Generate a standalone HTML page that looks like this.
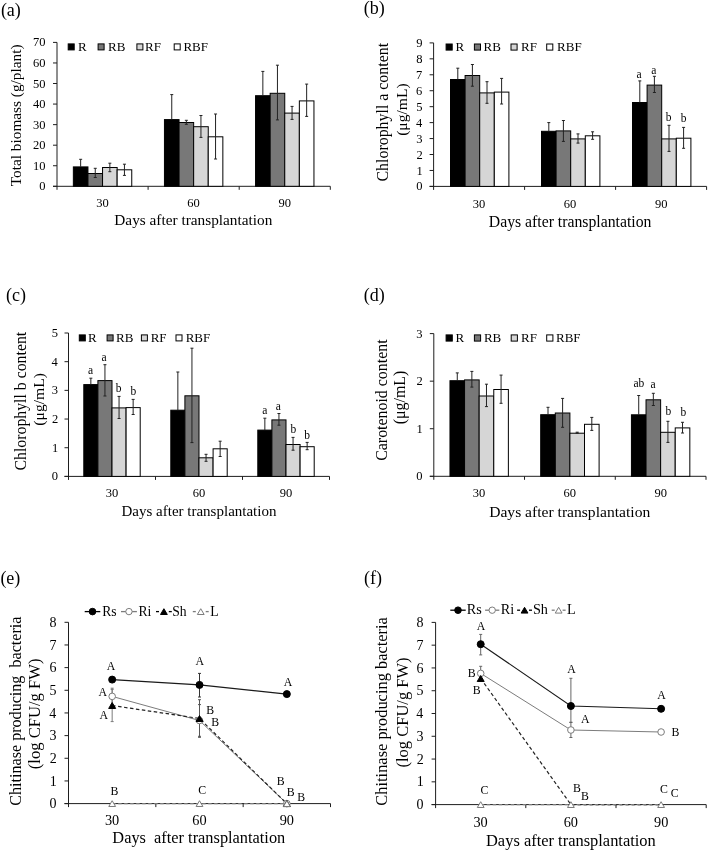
<!DOCTYPE html>
<html><head><meta charset="utf-8"><title>Figure</title>
<style>html,body{margin:0;padding:0;background:#fff;}svg{display:block;will-change:transform;}text{font-family:"Liberation Serif", serif;}</style>
</head><body>
<svg width="708" height="852" viewBox="0 0 708 852">
<rect width="708" height="852" fill="#fff"/>
<text x="0.89" y="16.41" font-size="18.00" fill="#000">(a)</text>
<line x1="57.00" y1="42.40" x2="57.00" y2="189.80" stroke="#1e1e1e" stroke-width="1"/>
<line x1="53.00" y1="186.30" x2="57.00" y2="186.30" stroke="#1e1e1e" stroke-width="1"/>
<text x="39.22" y="190.39" font-size="12.50" fill="#000">0</text>
<line x1="53.00" y1="165.74" x2="57.00" y2="165.74" stroke="#1e1e1e" stroke-width="1"/>
<text x="32.97" y="169.84" font-size="12.50" fill="#000">10</text>
<line x1="53.00" y1="145.19" x2="57.00" y2="145.19" stroke="#1e1e1e" stroke-width="1"/>
<text x="32.97" y="149.28" font-size="12.50" fill="#000">20</text>
<line x1="53.00" y1="124.63" x2="57.00" y2="124.63" stroke="#1e1e1e" stroke-width="1"/>
<text x="32.97" y="128.72" font-size="12.50" fill="#000">30</text>
<line x1="53.00" y1="104.07" x2="57.00" y2="104.07" stroke="#1e1e1e" stroke-width="1"/>
<text x="32.97" y="108.17" font-size="12.50" fill="#000">40</text>
<line x1="53.00" y1="83.51" x2="57.00" y2="83.51" stroke="#1e1e1e" stroke-width="1"/>
<text x="32.97" y="87.61" font-size="12.50" fill="#000">50</text>
<line x1="53.00" y1="62.96" x2="57.00" y2="62.96" stroke="#1e1e1e" stroke-width="1"/>
<text x="32.97" y="67.05" font-size="12.50" fill="#000">60</text>
<line x1="53.00" y1="42.40" x2="57.00" y2="42.40" stroke="#1e1e1e" stroke-width="1"/>
<text x="32.97" y="46.49" font-size="12.50" fill="#000">70</text>
<line x1="53.00" y1="186.30" x2="330.30" y2="186.30" stroke="#1e1e1e" stroke-width="1"/>
<line x1="148.10" y1="186.30" x2="148.10" y2="189.80" stroke="#1e1e1e" stroke-width="1"/>
<line x1="239.20" y1="186.30" x2="239.20" y2="189.80" stroke="#1e1e1e" stroke-width="1"/>
<line x1="330.30" y1="186.30" x2="330.30" y2="189.80" stroke="#1e1e1e" stroke-width="1"/>
<rect x="73.35" y="166.90" width="14.60" height="19.40" fill="#000000" stroke="#000" stroke-width="1"/>
<rect x="87.95" y="173.50" width="14.60" height="12.80" fill="#787878" stroke="#000" stroke-width="1"/>
<rect x="102.55" y="167.50" width="14.60" height="18.80" fill="#d6d6d6" stroke="#000" stroke-width="1"/>
<rect x="117.15" y="169.80" width="14.60" height="16.50" fill="#ffffff" stroke="#000" stroke-width="1"/>
<line x1="80.65" y1="159.30" x2="80.65" y2="166.90" stroke="#222" stroke-width="1"/>
<line x1="79.15" y1="159.30" x2="82.15" y2="159.30" stroke="#222" stroke-width="1"/>
<line x1="95.25" y1="168.30" x2="95.25" y2="177.50" stroke="#222" stroke-width="1"/>
<line x1="93.75" y1="168.30" x2="96.75" y2="168.30" stroke="#222" stroke-width="1"/>
<line x1="93.75" y1="177.50" x2="96.75" y2="177.50" stroke="#222" stroke-width="1"/>
<line x1="109.85" y1="163.20" x2="109.85" y2="171.70" stroke="#222" stroke-width="1"/>
<line x1="108.35" y1="163.20" x2="111.35" y2="163.20" stroke="#222" stroke-width="1"/>
<line x1="108.35" y1="171.70" x2="111.35" y2="171.70" stroke="#222" stroke-width="1"/>
<line x1="124.45" y1="164.20" x2="124.45" y2="175.40" stroke="#222" stroke-width="1"/>
<line x1="122.95" y1="164.20" x2="125.95" y2="164.20" stroke="#222" stroke-width="1"/>
<line x1="122.95" y1="175.40" x2="125.95" y2="175.40" stroke="#222" stroke-width="1"/>
<rect x="164.45" y="119.60" width="14.60" height="66.70" fill="#000000" stroke="#000" stroke-width="1"/>
<rect x="179.05" y="122.50" width="14.60" height="63.80" fill="#787878" stroke="#000" stroke-width="1"/>
<rect x="193.65" y="126.70" width="14.60" height="59.60" fill="#d6d6d6" stroke="#000" stroke-width="1"/>
<rect x="208.25" y="136.80" width="14.60" height="49.50" fill="#ffffff" stroke="#000" stroke-width="1"/>
<line x1="171.75" y1="94.60" x2="171.75" y2="119.60" stroke="#222" stroke-width="1"/>
<line x1="170.25" y1="94.60" x2="173.25" y2="94.60" stroke="#222" stroke-width="1"/>
<line x1="186.35" y1="120.30" x2="186.35" y2="124.30" stroke="#222" stroke-width="1"/>
<line x1="184.85" y1="120.30" x2="187.85" y2="120.30" stroke="#222" stroke-width="1"/>
<line x1="184.85" y1="124.30" x2="187.85" y2="124.30" stroke="#222" stroke-width="1"/>
<line x1="200.95" y1="115.50" x2="200.95" y2="137.40" stroke="#222" stroke-width="1"/>
<line x1="199.45" y1="115.50" x2="202.45" y2="115.50" stroke="#222" stroke-width="1"/>
<line x1="199.45" y1="137.40" x2="202.45" y2="137.40" stroke="#222" stroke-width="1"/>
<line x1="215.55" y1="114.00" x2="215.55" y2="159.00" stroke="#222" stroke-width="1"/>
<line x1="214.05" y1="114.00" x2="217.05" y2="114.00" stroke="#222" stroke-width="1"/>
<line x1="214.05" y1="159.00" x2="217.05" y2="159.00" stroke="#222" stroke-width="1"/>
<rect x="255.55" y="95.70" width="14.60" height="90.60" fill="#000000" stroke="#000" stroke-width="1"/>
<rect x="270.15" y="93.30" width="14.60" height="93.00" fill="#787878" stroke="#000" stroke-width="1"/>
<rect x="284.75" y="113.10" width="14.60" height="73.20" fill="#d6d6d6" stroke="#000" stroke-width="1"/>
<rect x="299.35" y="100.90" width="14.60" height="85.40" fill="#ffffff" stroke="#000" stroke-width="1"/>
<line x1="262.85" y1="71.40" x2="262.85" y2="95.70" stroke="#222" stroke-width="1"/>
<line x1="261.35" y1="71.40" x2="264.35" y2="71.40" stroke="#222" stroke-width="1"/>
<line x1="277.45" y1="65.20" x2="277.45" y2="119.90" stroke="#222" stroke-width="1"/>
<line x1="275.95" y1="65.20" x2="278.95" y2="65.20" stroke="#222" stroke-width="1"/>
<line x1="275.95" y1="119.90" x2="278.95" y2="119.90" stroke="#222" stroke-width="1"/>
<line x1="292.05" y1="106.40" x2="292.05" y2="119.40" stroke="#222" stroke-width="1"/>
<line x1="290.55" y1="106.40" x2="293.55" y2="106.40" stroke="#222" stroke-width="1"/>
<line x1="290.55" y1="119.40" x2="293.55" y2="119.40" stroke="#222" stroke-width="1"/>
<line x1="306.65" y1="84.10" x2="306.65" y2="116.40" stroke="#222" stroke-width="1"/>
<line x1="305.15" y1="84.10" x2="308.15" y2="84.10" stroke="#222" stroke-width="1"/>
<line x1="305.15" y1="116.40" x2="308.15" y2="116.40" stroke="#222" stroke-width="1"/>
<text x="96.24" y="206.61" font-size="12.50" fill="#000">30</text>
<text x="187.37" y="206.61" font-size="12.50" fill="#000">60</text>
<text x="278.53" y="206.61" font-size="12.50" fill="#000">90</text>
<text x="114.31" y="225.40" font-size="15.30" fill="#000">Days after transplantation</text>
<text transform="translate(21.47,186.17) rotate(-90)" x="0" y="0" font-size="15.30" fill="#000">Total biomass (g/plant)</text>
<rect x="68.20" y="43.90" width="6.00" height="6.00" fill="#000000" stroke="#000" stroke-width="1"/>
<text x="77.91" y="51.10" font-size="13.00" fill="#000">R</text>
<rect x="98.10" y="43.90" width="6.00" height="6.00" fill="#787878" stroke="#000" stroke-width="1"/>
<text x="108.11" y="51.10" font-size="13.00" fill="#000">RB</text>
<rect x="136.90" y="43.90" width="6.00" height="6.00" fill="#d6d6d6" stroke="#000" stroke-width="1"/>
<text x="145.01" y="51.10" font-size="13.00" fill="#000">RF</text>
<rect x="174.20" y="43.90" width="6.00" height="6.00" fill="#ffffff" stroke="#000" stroke-width="1"/>
<text x="183.41" y="51.10" font-size="13.00" fill="#000">RBF</text>
<text x="363.79" y="14.41" font-size="18.00" fill="#000">(b)</text>
<line x1="433.60" y1="42.90" x2="433.60" y2="189.90" stroke="#1e1e1e" stroke-width="1"/>
<line x1="429.60" y1="186.40" x2="433.60" y2="186.40" stroke="#1e1e1e" stroke-width="1"/>
<text x="416.22" y="190.49" font-size="12.50" fill="#000">0</text>
<line x1="429.60" y1="170.46" x2="433.60" y2="170.46" stroke="#1e1e1e" stroke-width="1"/>
<text x="416.50" y="174.58" font-size="12.50" fill="#000">1</text>
<line x1="429.60" y1="154.51" x2="433.60" y2="154.51" stroke="#1e1e1e" stroke-width="1"/>
<text x="416.44" y="158.65" font-size="12.50" fill="#000">2</text>
<line x1="429.60" y1="138.57" x2="433.60" y2="138.57" stroke="#1e1e1e" stroke-width="1"/>
<text x="416.25" y="142.64" font-size="12.50" fill="#000">3</text>
<line x1="429.60" y1="122.62" x2="433.60" y2="122.62" stroke="#1e1e1e" stroke-width="1"/>
<text x="415.94" y="126.73" font-size="12.50" fill="#000">4</text>
<line x1="429.60" y1="106.68" x2="433.60" y2="106.68" stroke="#1e1e1e" stroke-width="1"/>
<text x="416.25" y="110.71" font-size="12.50" fill="#000">5</text>
<line x1="429.60" y1="90.73" x2="433.60" y2="90.73" stroke="#1e1e1e" stroke-width="1"/>
<text x="416.12" y="94.81" font-size="12.50" fill="#000">6</text>
<line x1="429.60" y1="74.79" x2="433.60" y2="74.79" stroke="#1e1e1e" stroke-width="1"/>
<text x="416.12" y="78.88" font-size="12.50" fill="#000">7</text>
<line x1="429.60" y1="58.84" x2="433.60" y2="58.84" stroke="#1e1e1e" stroke-width="1"/>
<text x="416.22" y="62.94" font-size="12.50" fill="#000">8</text>
<line x1="429.60" y1="42.90" x2="433.60" y2="42.90" stroke="#1e1e1e" stroke-width="1"/>
<text x="416.25" y="46.98" font-size="12.50" fill="#000">9</text>
<line x1="429.60" y1="186.40" x2="706.60" y2="186.40" stroke="#1e1e1e" stroke-width="1"/>
<line x1="524.60" y1="186.40" x2="524.60" y2="189.90" stroke="#1e1e1e" stroke-width="1"/>
<line x1="615.60" y1="186.40" x2="615.60" y2="189.90" stroke="#1e1e1e" stroke-width="1"/>
<line x1="706.60" y1="186.40" x2="706.60" y2="189.90" stroke="#1e1e1e" stroke-width="1"/>
<rect x="450.50" y="79.50" width="14.60" height="106.90" fill="#000000" stroke="#000" stroke-width="1"/>
<rect x="465.10" y="75.50" width="14.60" height="110.90" fill="#787878" stroke="#000" stroke-width="1"/>
<rect x="479.70" y="92.90" width="14.60" height="93.50" fill="#d6d6d6" stroke="#000" stroke-width="1"/>
<rect x="494.30" y="92.10" width="14.60" height="94.30" fill="#ffffff" stroke="#000" stroke-width="1"/>
<line x1="457.80" y1="68.20" x2="457.80" y2="79.50" stroke="#222" stroke-width="1"/>
<line x1="456.30" y1="68.20" x2="459.30" y2="68.20" stroke="#222" stroke-width="1"/>
<line x1="472.40" y1="64.50" x2="472.40" y2="86.20" stroke="#222" stroke-width="1"/>
<line x1="470.90" y1="64.50" x2="473.90" y2="64.50" stroke="#222" stroke-width="1"/>
<line x1="470.90" y1="86.20" x2="473.90" y2="86.20" stroke="#222" stroke-width="1"/>
<line x1="487.00" y1="81.70" x2="487.00" y2="103.30" stroke="#222" stroke-width="1"/>
<line x1="485.50" y1="81.70" x2="488.50" y2="81.70" stroke="#222" stroke-width="1"/>
<line x1="485.50" y1="103.30" x2="488.50" y2="103.30" stroke="#222" stroke-width="1"/>
<line x1="501.60" y1="78.40" x2="501.60" y2="104.00" stroke="#222" stroke-width="1"/>
<line x1="500.10" y1="78.40" x2="503.10" y2="78.40" stroke="#222" stroke-width="1"/>
<line x1="500.10" y1="104.00" x2="503.10" y2="104.00" stroke="#222" stroke-width="1"/>
<rect x="541.50" y="131.30" width="14.60" height="55.10" fill="#000000" stroke="#000" stroke-width="1"/>
<rect x="556.10" y="130.90" width="14.60" height="55.50" fill="#787878" stroke="#000" stroke-width="1"/>
<rect x="570.70" y="138.90" width="14.60" height="47.50" fill="#d6d6d6" stroke="#000" stroke-width="1"/>
<rect x="585.30" y="135.80" width="14.60" height="50.60" fill="#ffffff" stroke="#000" stroke-width="1"/>
<line x1="548.80" y1="122.60" x2="548.80" y2="131.30" stroke="#222" stroke-width="1"/>
<line x1="547.30" y1="122.60" x2="550.30" y2="122.60" stroke="#222" stroke-width="1"/>
<line x1="563.40" y1="120.50" x2="563.40" y2="141.40" stroke="#222" stroke-width="1"/>
<line x1="561.90" y1="120.50" x2="564.90" y2="120.50" stroke="#222" stroke-width="1"/>
<line x1="561.90" y1="141.40" x2="564.90" y2="141.40" stroke="#222" stroke-width="1"/>
<line x1="578.00" y1="133.90" x2="578.00" y2="143.10" stroke="#222" stroke-width="1"/>
<line x1="576.50" y1="133.90" x2="579.50" y2="133.90" stroke="#222" stroke-width="1"/>
<line x1="576.50" y1="143.10" x2="579.50" y2="143.10" stroke="#222" stroke-width="1"/>
<line x1="592.60" y1="131.80" x2="592.60" y2="139.30" stroke="#222" stroke-width="1"/>
<line x1="591.10" y1="131.80" x2="594.10" y2="131.80" stroke="#222" stroke-width="1"/>
<line x1="591.10" y1="139.30" x2="594.10" y2="139.30" stroke="#222" stroke-width="1"/>
<rect x="632.50" y="102.50" width="14.60" height="83.90" fill="#000000" stroke="#000" stroke-width="1"/>
<rect x="647.10" y="85.10" width="14.60" height="101.30" fill="#787878" stroke="#000" stroke-width="1"/>
<rect x="661.70" y="138.90" width="14.60" height="47.50" fill="#d6d6d6" stroke="#000" stroke-width="1"/>
<rect x="676.30" y="138.20" width="14.60" height="48.20" fill="#ffffff" stroke="#000" stroke-width="1"/>
<line x1="639.80" y1="80.90" x2="639.80" y2="102.50" stroke="#222" stroke-width="1"/>
<line x1="638.30" y1="80.90" x2="641.30" y2="80.90" stroke="#222" stroke-width="1"/>
<line x1="654.40" y1="76.30" x2="654.40" y2="92.50" stroke="#222" stroke-width="1"/>
<line x1="652.90" y1="76.30" x2="655.90" y2="76.30" stroke="#222" stroke-width="1"/>
<line x1="652.90" y1="92.50" x2="655.90" y2="92.50" stroke="#222" stroke-width="1"/>
<line x1="669.00" y1="125.30" x2="669.00" y2="151.40" stroke="#222" stroke-width="1"/>
<line x1="667.50" y1="125.30" x2="670.50" y2="125.30" stroke="#222" stroke-width="1"/>
<line x1="667.50" y1="151.40" x2="670.50" y2="151.40" stroke="#222" stroke-width="1"/>
<line x1="683.60" y1="127.40" x2="683.60" y2="148.30" stroke="#222" stroke-width="1"/>
<line x1="682.10" y1="127.40" x2="685.10" y2="127.40" stroke="#222" stroke-width="1"/>
<line x1="682.10" y1="148.30" x2="685.10" y2="148.30" stroke="#222" stroke-width="1"/>
<text x="472.79" y="207.51" font-size="12.50" fill="#000">30</text>
<text x="563.82" y="207.51" font-size="12.50" fill="#000">60</text>
<text x="654.88" y="207.51" font-size="12.50" fill="#000">90</text>
<text x="488.78" y="227.20" font-size="15.75" fill="#000">Days after transplantation</text>
<text transform="translate(387.77,181.50) rotate(-90)" x="0" y="0" font-size="15.90" fill="#000">Chlorophyll a content</text>
<text transform="translate(406.94,135.84) rotate(-90)" x="0" y="0" font-size="15.60" fill="#000">(μg/mL)</text>
<rect x="446.10" y="44.00" width="6.10" height="6.10" fill="#000000" stroke="#000" stroke-width="1"/>
<text x="455.41" y="51.10" font-size="13.00" fill="#000">R</text>
<rect x="474.40" y="44.00" width="6.10" height="6.10" fill="#787878" stroke="#000" stroke-width="1"/>
<text x="483.61" y="51.10" font-size="13.00" fill="#000">RB</text>
<rect x="511.00" y="44.00" width="6.10" height="6.10" fill="#d6d6d6" stroke="#000" stroke-width="1"/>
<text x="521.01" y="51.10" font-size="13.00" fill="#000">RF</text>
<rect x="546.70" y="44.00" width="6.10" height="6.10" fill="#ffffff" stroke="#000" stroke-width="1"/>
<text x="557.11" y="51.10" font-size="13.00" fill="#000">RBF</text>
<text x="636.53" y="77.59" font-size="11.50" fill="#000">a</text>
<text x="651.13" y="73.89" font-size="11.50" fill="#000">a</text>
<text x="665.74" y="120.89" font-size="11.50" fill="#000">b</text>
<text x="680.64" y="121.98" font-size="11.50" fill="#000">b</text>
<text x="5.99" y="301.21" font-size="18.00" fill="#000">(c)</text>
<line x1="68.50" y1="333.00" x2="68.50" y2="479.90" stroke="#1e1e1e" stroke-width="1"/>
<line x1="64.50" y1="476.40" x2="68.50" y2="476.40" stroke="#1e1e1e" stroke-width="1"/>
<text x="51.82" y="480.49" font-size="12.50" fill="#000">0</text>
<line x1="64.50" y1="447.72" x2="68.50" y2="447.72" stroke="#1e1e1e" stroke-width="1"/>
<text x="52.10" y="451.84" font-size="12.50" fill="#000">1</text>
<line x1="64.50" y1="419.04" x2="68.50" y2="419.04" stroke="#1e1e1e" stroke-width="1"/>
<text x="52.04" y="423.18" font-size="12.50" fill="#000">2</text>
<line x1="64.50" y1="390.36" x2="68.50" y2="390.36" stroke="#1e1e1e" stroke-width="1"/>
<text x="51.85" y="394.44" font-size="12.50" fill="#000">3</text>
<line x1="64.50" y1="361.68" x2="68.50" y2="361.68" stroke="#1e1e1e" stroke-width="1"/>
<text x="51.54" y="365.79" font-size="12.50" fill="#000">4</text>
<line x1="64.50" y1="333.00" x2="68.50" y2="333.00" stroke="#1e1e1e" stroke-width="1"/>
<text x="51.85" y="337.03" font-size="12.50" fill="#000">5</text>
<line x1="64.50" y1="476.40" x2="329.50" y2="476.40" stroke="#1e1e1e" stroke-width="1"/>
<line x1="155.50" y1="476.40" x2="155.50" y2="479.90" stroke="#1e1e1e" stroke-width="1"/>
<line x1="242.50" y1="476.40" x2="242.50" y2="479.90" stroke="#1e1e1e" stroke-width="1"/>
<line x1="329.50" y1="476.40" x2="329.50" y2="479.90" stroke="#1e1e1e" stroke-width="1"/>
<rect x="83.80" y="384.60" width="14.10" height="91.80" fill="#000000" stroke="#000" stroke-width="1"/>
<rect x="97.90" y="380.60" width="14.10" height="95.80" fill="#787878" stroke="#000" stroke-width="1"/>
<rect x="112.00" y="407.90" width="14.10" height="68.50" fill="#d6d6d6" stroke="#000" stroke-width="1"/>
<rect x="126.10" y="407.60" width="14.10" height="68.80" fill="#ffffff" stroke="#000" stroke-width="1"/>
<line x1="90.85" y1="378.20" x2="90.85" y2="384.60" stroke="#222" stroke-width="1"/>
<line x1="89.35" y1="378.20" x2="92.35" y2="378.20" stroke="#222" stroke-width="1"/>
<line x1="104.95" y1="364.70" x2="104.95" y2="396.00" stroke="#222" stroke-width="1"/>
<line x1="103.45" y1="364.70" x2="106.45" y2="364.70" stroke="#222" stroke-width="1"/>
<line x1="103.45" y1="396.00" x2="106.45" y2="396.00" stroke="#222" stroke-width="1"/>
<line x1="119.05" y1="396.40" x2="119.05" y2="418.50" stroke="#222" stroke-width="1"/>
<line x1="117.55" y1="396.40" x2="120.55" y2="396.40" stroke="#222" stroke-width="1"/>
<line x1="117.55" y1="418.50" x2="120.55" y2="418.50" stroke="#222" stroke-width="1"/>
<line x1="133.15" y1="399.40" x2="133.15" y2="414.50" stroke="#222" stroke-width="1"/>
<line x1="131.65" y1="399.40" x2="134.65" y2="399.40" stroke="#222" stroke-width="1"/>
<line x1="131.65" y1="414.50" x2="134.65" y2="414.50" stroke="#222" stroke-width="1"/>
<rect x="170.80" y="410.20" width="14.10" height="66.20" fill="#000000" stroke="#000" stroke-width="1"/>
<rect x="184.90" y="395.80" width="14.10" height="80.60" fill="#787878" stroke="#000" stroke-width="1"/>
<rect x="199.00" y="457.80" width="14.10" height="18.60" fill="#d6d6d6" stroke="#000" stroke-width="1"/>
<rect x="213.10" y="448.80" width="14.10" height="27.60" fill="#ffffff" stroke="#000" stroke-width="1"/>
<line x1="177.85" y1="372.00" x2="177.85" y2="410.20" stroke="#222" stroke-width="1"/>
<line x1="176.35" y1="372.00" x2="179.35" y2="372.00" stroke="#222" stroke-width="1"/>
<line x1="191.95" y1="348.20" x2="191.95" y2="442.60" stroke="#222" stroke-width="1"/>
<line x1="190.45" y1="348.20" x2="193.45" y2="348.20" stroke="#222" stroke-width="1"/>
<line x1="190.45" y1="442.60" x2="193.45" y2="442.60" stroke="#222" stroke-width="1"/>
<line x1="206.05" y1="454.30" x2="206.05" y2="461.30" stroke="#222" stroke-width="1"/>
<line x1="204.55" y1="454.30" x2="207.55" y2="454.30" stroke="#222" stroke-width="1"/>
<line x1="204.55" y1="461.30" x2="207.55" y2="461.30" stroke="#222" stroke-width="1"/>
<line x1="220.15" y1="441.20" x2="220.15" y2="456.50" stroke="#222" stroke-width="1"/>
<line x1="218.65" y1="441.20" x2="221.65" y2="441.20" stroke="#222" stroke-width="1"/>
<line x1="218.65" y1="456.50" x2="221.65" y2="456.50" stroke="#222" stroke-width="1"/>
<rect x="257.80" y="430.10" width="14.10" height="46.30" fill="#000000" stroke="#000" stroke-width="1"/>
<rect x="271.90" y="419.90" width="14.10" height="56.50" fill="#787878" stroke="#000" stroke-width="1"/>
<rect x="286.00" y="444.50" width="14.10" height="31.90" fill="#d6d6d6" stroke="#000" stroke-width="1"/>
<rect x="300.10" y="446.70" width="14.10" height="29.70" fill="#ffffff" stroke="#000" stroke-width="1"/>
<line x1="264.85" y1="418.20" x2="264.85" y2="430.10" stroke="#222" stroke-width="1"/>
<line x1="263.35" y1="418.20" x2="266.35" y2="418.20" stroke="#222" stroke-width="1"/>
<line x1="278.95" y1="413.50" x2="278.95" y2="425.20" stroke="#222" stroke-width="1"/>
<line x1="277.45" y1="413.50" x2="280.45" y2="413.50" stroke="#222" stroke-width="1"/>
<line x1="277.45" y1="425.20" x2="280.45" y2="425.20" stroke="#222" stroke-width="1"/>
<line x1="293.05" y1="437.40" x2="293.05" y2="450.20" stroke="#222" stroke-width="1"/>
<line x1="291.55" y1="437.40" x2="294.55" y2="437.40" stroke="#222" stroke-width="1"/>
<line x1="291.55" y1="450.20" x2="294.55" y2="450.20" stroke="#222" stroke-width="1"/>
<line x1="307.15" y1="442.40" x2="307.15" y2="449.70" stroke="#222" stroke-width="1"/>
<line x1="305.65" y1="442.40" x2="308.65" y2="442.40" stroke="#222" stroke-width="1"/>
<line x1="305.65" y1="449.70" x2="308.65" y2="449.70" stroke="#222" stroke-width="1"/>
<text x="105.69" y="497.21" font-size="12.50" fill="#000">30</text>
<text x="192.72" y="497.21" font-size="12.50" fill="#000">60</text>
<text x="279.78" y="497.21" font-size="12.50" fill="#000">90</text>
<text x="121.51" y="516.20" font-size="15.00" fill="#000">Days after transplantation</text>
<text transform="translate(25.79,470.47) rotate(-90)" x="0" y="0" font-size="15.80" fill="#000">Chlorophyll b content</text>
<text transform="translate(44.04,425.64) rotate(-90)" x="0" y="0" font-size="15.60" fill="#000">(μg/mL)</text>
<rect x="79.30" y="334.90" width="6.00" height="6.00" fill="#000000" stroke="#000" stroke-width="1"/>
<text x="87.91" y="341.80" font-size="13.00" fill="#000">R</text>
<rect x="107.10" y="334.90" width="6.00" height="6.00" fill="#787878" stroke="#000" stroke-width="1"/>
<text x="116.11" y="341.80" font-size="13.00" fill="#000">RB</text>
<rect x="141.40" y="334.90" width="6.00" height="6.00" fill="#d6d6d6" stroke="#000" stroke-width="1"/>
<text x="150.71" y="341.80" font-size="13.00" fill="#000">RF</text>
<rect x="176.00" y="334.90" width="6.00" height="6.00" fill="#ffffff" stroke="#000" stroke-width="1"/>
<text x="185.71" y="341.80" font-size="13.00" fill="#000">RBF</text>
<text x="87.93" y="374.49" font-size="11.50" fill="#000">a</text>
<text x="101.43" y="361.28" font-size="11.50" fill="#000">a</text>
<text x="115.64" y="391.88" font-size="11.50" fill="#000">b</text>
<text x="130.44" y="395.08" font-size="11.50" fill="#000">b</text>
<text x="262.23" y="413.88" font-size="11.50" fill="#000">a</text>
<text x="275.73" y="409.78" font-size="11.50" fill="#000">a</text>
<text x="290.44" y="433.19" font-size="11.50" fill="#000">b</text>
<text x="304.34" y="439.08" font-size="11.50" fill="#000">b</text>
<text x="363.79" y="301.01" font-size="18.00" fill="#000">(d)</text>
<line x1="433.80" y1="333.60" x2="433.80" y2="479.80" stroke="#1e1e1e" stroke-width="1"/>
<line x1="429.80" y1="476.30" x2="433.80" y2="476.30" stroke="#1e1e1e" stroke-width="1"/>
<text x="416.32" y="480.39" font-size="12.50" fill="#000">0</text>
<line x1="429.80" y1="428.73" x2="433.80" y2="428.73" stroke="#1e1e1e" stroke-width="1"/>
<text x="416.60" y="432.86" font-size="12.50" fill="#000">1</text>
<line x1="429.80" y1="381.17" x2="433.80" y2="381.17" stroke="#1e1e1e" stroke-width="1"/>
<text x="416.54" y="385.31" font-size="12.50" fill="#000">2</text>
<line x1="429.80" y1="333.60" x2="433.80" y2="333.60" stroke="#1e1e1e" stroke-width="1"/>
<text x="416.35" y="337.68" font-size="12.50" fill="#000">3</text>
<line x1="429.80" y1="476.30" x2="706.00" y2="476.30" stroke="#1e1e1e" stroke-width="1"/>
<line x1="524.53" y1="476.30" x2="524.53" y2="479.80" stroke="#1e1e1e" stroke-width="1"/>
<line x1="615.27" y1="476.30" x2="615.27" y2="479.80" stroke="#1e1e1e" stroke-width="1"/>
<line x1="706.00" y1="476.30" x2="706.00" y2="479.80" stroke="#1e1e1e" stroke-width="1"/>
<rect x="449.97" y="380.70" width="14.60" height="95.60" fill="#000000" stroke="#000" stroke-width="1"/>
<rect x="464.57" y="379.90" width="14.60" height="96.40" fill="#787878" stroke="#000" stroke-width="1"/>
<rect x="479.17" y="396.00" width="14.60" height="80.30" fill="#d6d6d6" stroke="#000" stroke-width="1"/>
<rect x="493.77" y="389.50" width="14.60" height="86.80" fill="#ffffff" stroke="#000" stroke-width="1"/>
<line x1="457.27" y1="372.90" x2="457.27" y2="380.70" stroke="#222" stroke-width="1"/>
<line x1="455.77" y1="372.90" x2="458.77" y2="372.90" stroke="#222" stroke-width="1"/>
<line x1="471.87" y1="371.40" x2="471.87" y2="387.10" stroke="#222" stroke-width="1"/>
<line x1="470.37" y1="371.40" x2="473.37" y2="371.40" stroke="#222" stroke-width="1"/>
<line x1="470.37" y1="387.10" x2="473.37" y2="387.10" stroke="#222" stroke-width="1"/>
<line x1="486.47" y1="384.20" x2="486.47" y2="406.60" stroke="#222" stroke-width="1"/>
<line x1="484.97" y1="384.20" x2="487.97" y2="384.20" stroke="#222" stroke-width="1"/>
<line x1="484.97" y1="406.60" x2="487.97" y2="406.60" stroke="#222" stroke-width="1"/>
<line x1="501.07" y1="375.10" x2="501.07" y2="403.30" stroke="#222" stroke-width="1"/>
<line x1="499.57" y1="375.10" x2="502.57" y2="375.10" stroke="#222" stroke-width="1"/>
<line x1="499.57" y1="403.30" x2="502.57" y2="403.30" stroke="#222" stroke-width="1"/>
<rect x="540.70" y="414.70" width="14.60" height="61.60" fill="#000000" stroke="#000" stroke-width="1"/>
<rect x="555.30" y="413.00" width="14.60" height="63.30" fill="#787878" stroke="#000" stroke-width="1"/>
<rect x="569.90" y="433.20" width="14.60" height="43.10" fill="#d6d6d6" stroke="#000" stroke-width="1"/>
<rect x="584.50" y="424.30" width="14.60" height="52.00" fill="#ffffff" stroke="#000" stroke-width="1"/>
<line x1="548.00" y1="407.30" x2="548.00" y2="414.70" stroke="#222" stroke-width="1"/>
<line x1="546.50" y1="407.30" x2="549.50" y2="407.30" stroke="#222" stroke-width="1"/>
<line x1="562.60" y1="398.40" x2="562.60" y2="427.30" stroke="#222" stroke-width="1"/>
<line x1="561.10" y1="398.40" x2="564.10" y2="398.40" stroke="#222" stroke-width="1"/>
<line x1="561.10" y1="427.30" x2="564.10" y2="427.30" stroke="#222" stroke-width="1"/>
<line x1="577.20" y1="432.20" x2="577.20" y2="433.20" stroke="#222" stroke-width="1"/>
<line x1="575.70" y1="432.20" x2="578.70" y2="432.20" stroke="#222" stroke-width="1"/>
<line x1="575.70" y1="433.20" x2="578.70" y2="433.20" stroke="#222" stroke-width="1"/>
<line x1="591.80" y1="417.40" x2="591.80" y2="430.40" stroke="#222" stroke-width="1"/>
<line x1="590.30" y1="417.40" x2="593.30" y2="417.40" stroke="#222" stroke-width="1"/>
<line x1="590.30" y1="430.40" x2="593.30" y2="430.40" stroke="#222" stroke-width="1"/>
<rect x="631.43" y="414.80" width="14.60" height="61.50" fill="#000000" stroke="#000" stroke-width="1"/>
<rect x="646.03" y="399.80" width="14.60" height="76.50" fill="#787878" stroke="#000" stroke-width="1"/>
<rect x="660.63" y="432.30" width="14.60" height="44.00" fill="#d6d6d6" stroke="#000" stroke-width="1"/>
<rect x="675.23" y="427.90" width="14.60" height="48.40" fill="#ffffff" stroke="#000" stroke-width="1"/>
<line x1="638.73" y1="395.50" x2="638.73" y2="414.80" stroke="#222" stroke-width="1"/>
<line x1="637.23" y1="395.50" x2="640.23" y2="395.50" stroke="#222" stroke-width="1"/>
<line x1="653.33" y1="393.30" x2="653.33" y2="405.50" stroke="#222" stroke-width="1"/>
<line x1="651.83" y1="393.30" x2="654.83" y2="393.30" stroke="#222" stroke-width="1"/>
<line x1="651.83" y1="405.50" x2="654.83" y2="405.50" stroke="#222" stroke-width="1"/>
<line x1="667.93" y1="421.30" x2="667.93" y2="442.40" stroke="#222" stroke-width="1"/>
<line x1="666.43" y1="421.30" x2="669.43" y2="421.30" stroke="#222" stroke-width="1"/>
<line x1="666.43" y1="442.40" x2="669.43" y2="442.40" stroke="#222" stroke-width="1"/>
<line x1="682.53" y1="422.30" x2="682.53" y2="433.00" stroke="#222" stroke-width="1"/>
<line x1="681.03" y1="422.30" x2="684.03" y2="422.30" stroke="#222" stroke-width="1"/>
<line x1="681.03" y1="433.00" x2="684.03" y2="433.00" stroke="#222" stroke-width="1"/>
<text x="472.85" y="497.21" font-size="12.50" fill="#000">30</text>
<text x="563.62" y="497.21" font-size="12.50" fill="#000">60</text>
<text x="654.41" y="497.21" font-size="12.50" fill="#000">90</text>
<text x="489.16" y="516.50" font-size="15.60" fill="#000">Days after transplantation</text>
<text transform="translate(386.80,460.80) rotate(-90)" x="0" y="0" font-size="15.90" fill="#000">Carotenoid content</text>
<text transform="translate(405.17,424.24) rotate(-90)" x="0" y="0" font-size="15.90" fill="#000">(μg/mL)</text>
<rect x="446.10" y="334.90" width="6.20" height="6.20" fill="#000000" stroke="#000" stroke-width="1"/>
<text x="455.41" y="341.80" font-size="13.00" fill="#000">R</text>
<rect x="474.40" y="334.90" width="6.20" height="6.20" fill="#787878" stroke="#000" stroke-width="1"/>
<text x="483.91" y="341.80" font-size="13.00" fill="#000">RB</text>
<rect x="511.20" y="334.90" width="6.20" height="6.20" fill="#d6d6d6" stroke="#000" stroke-width="1"/>
<text x="521.01" y="341.80" font-size="13.00" fill="#000">RF</text>
<rect x="546.70" y="334.90" width="6.20" height="6.20" fill="#ffffff" stroke="#000" stroke-width="1"/>
<text x="556.01" y="341.80" font-size="13.00" fill="#000">RBF</text>
<text x="633.38" y="387.49" font-size="11.50" fill="#000">ab</text>
<text x="650.53" y="388.08" font-size="11.50" fill="#000">a</text>
<text x="665.44" y="415.28" font-size="11.50" fill="#000">b</text>
<text x="680.44" y="416.38" font-size="11.50" fill="#000">b</text>
<text x="0.39" y="584.31" font-size="18.00" fill="#000">(e)</text>
<line x1="68.50" y1="622.30" x2="68.50" y2="807.10" stroke="#1e1e1e" stroke-width="1"/>
<line x1="64.50" y1="803.60" x2="68.50" y2="803.60" stroke="#1e1e1e" stroke-width="1"/>
<text x="49.52" y="808.19" font-size="14.00" fill="#000">0</text>
<line x1="64.50" y1="780.94" x2="68.50" y2="780.94" stroke="#1e1e1e" stroke-width="1"/>
<text x="49.84" y="785.56" font-size="14.00" fill="#000">1</text>
<line x1="64.50" y1="758.27" x2="68.50" y2="758.27" stroke="#1e1e1e" stroke-width="1"/>
<text x="49.77" y="762.91" font-size="14.00" fill="#000">2</text>
<line x1="64.50" y1="735.61" x2="68.50" y2="735.61" stroke="#1e1e1e" stroke-width="1"/>
<text x="49.56" y="740.18" font-size="14.00" fill="#000">3</text>
<line x1="64.50" y1="712.95" x2="68.50" y2="712.95" stroke="#1e1e1e" stroke-width="1"/>
<text x="49.21" y="717.55" font-size="14.00" fill="#000">4</text>
<line x1="64.50" y1="690.29" x2="68.50" y2="690.29" stroke="#1e1e1e" stroke-width="1"/>
<text x="49.56" y="694.80" font-size="14.00" fill="#000">5</text>
<line x1="64.50" y1="667.62" x2="68.50" y2="667.62" stroke="#1e1e1e" stroke-width="1"/>
<text x="49.42" y="672.19" font-size="14.00" fill="#000">6</text>
<line x1="64.50" y1="644.96" x2="68.50" y2="644.96" stroke="#1e1e1e" stroke-width="1"/>
<text x="49.42" y="649.55" font-size="14.00" fill="#000">7</text>
<line x1="64.50" y1="622.30" x2="68.50" y2="622.30" stroke="#1e1e1e" stroke-width="1"/>
<text x="49.52" y="626.88" font-size="14.00" fill="#000">8</text>
<line x1="64.50" y1="803.60" x2="330.50" y2="803.60" stroke="#1e1e1e" stroke-width="1"/>
<line x1="155.83" y1="803.60" x2="155.83" y2="807.10" stroke="#1e1e1e" stroke-width="1"/>
<line x1="243.17" y1="803.60" x2="243.17" y2="807.10" stroke="#1e1e1e" stroke-width="1"/>
<line x1="330.50" y1="803.60" x2="330.50" y2="807.10" stroke="#1e1e1e" stroke-width="1"/>
<text x="104.95" y="825.11" font-size="14.30" fill="#000">30</text>
<text x="192.31" y="825.11" font-size="14.30" fill="#000">60</text>
<text x="279.72" y="825.11" font-size="14.30" fill="#000">90</text>
<text x="112.34" y="842.70" font-size="16.35" fill="#000">Days&#160;&#160;after&#160;transplantation</text>
<text transform="translate(21.11,805.67) rotate(-90)" x="0" y="0" font-size="16.10" fill="#000">Chitinase&#160;producing&#160;&#160;bacteria</text>
<text transform="translate(40.33,769.21) rotate(-90)" x="0" y="0" font-size="16.60" fill="#000">(log CFU/g FW)</text>
<polyline points="112.17,679.60 199.50,684.90 286.83,694.10" fill="none" stroke="#1a1a1a" stroke-width="1.1"/>
<polyline points="112.17,696.40 199.50,720.50 286.83,803.60" fill="none" stroke="#7c7c7c" stroke-width="1.0"/>
<polyline points="112.17,705.50 199.50,718.50 286.83,803.60" fill="none" stroke="#222" stroke-width="1.2" stroke-dasharray="3.5,2.5"/>
<polyline points="112.17,803.60 199.50,803.60 286.83,803.60" fill="none" stroke="#7c7c7c" stroke-width="1.2" stroke-dasharray="3.5,2.5"/>
<line x1="199.50" y1="673.40" x2="199.50" y2="697.00" stroke="#333" stroke-width="1"/>
<line x1="198.00" y1="673.40" x2="201.00" y2="673.40" stroke="#333" stroke-width="1"/>
<line x1="198.00" y1="697.00" x2="201.00" y2="697.00" stroke="#333" stroke-width="1"/>
<line x1="112.17" y1="688.20" x2="112.17" y2="704.60" stroke="#7c7c7c" stroke-width="1"/>
<line x1="110.67" y1="688.20" x2="113.67" y2="688.20" stroke="#7c7c7c" stroke-width="1"/>
<line x1="110.67" y1="704.60" x2="113.67" y2="704.60" stroke="#7c7c7c" stroke-width="1"/>
<line x1="199.50" y1="704.60" x2="199.50" y2="736.30" stroke="#555" stroke-width="1"/>
<line x1="198.00" y1="704.60" x2="201.00" y2="704.60" stroke="#555" stroke-width="1"/>
<line x1="198.00" y1="736.30" x2="201.00" y2="736.30" stroke="#555" stroke-width="1"/>
<line x1="112.17" y1="689.40" x2="112.17" y2="721.60" stroke="#7c7c7c" stroke-width="1"/>
<line x1="110.67" y1="689.40" x2="113.67" y2="689.40" stroke="#7c7c7c" stroke-width="1"/>
<line x1="110.67" y1="721.60" x2="113.67" y2="721.60" stroke="#7c7c7c" stroke-width="1"/>
<line x1="199.50" y1="699.70" x2="199.50" y2="737.30" stroke="#555" stroke-width="1"/>
<line x1="198.00" y1="699.70" x2="201.00" y2="699.70" stroke="#555" stroke-width="1"/>
<line x1="198.00" y1="737.30" x2="201.00" y2="737.30" stroke="#555" stroke-width="1"/>
<circle cx="112.17" cy="679.60" r="3.50" fill="#000" stroke="#000" stroke-width="1"/>
<circle cx="199.50" cy="684.90" r="3.50" fill="#000" stroke="#000" stroke-width="1"/>
<circle cx="286.83" cy="694.10" r="3.50" fill="#000" stroke="#000" stroke-width="1"/>
<circle cx="112.17" cy="696.40" r="3.30" fill="#fff" stroke="#7c7c7c" stroke-width="1"/>
<circle cx="199.50" cy="720.50" r="3.30" fill="#fff" stroke="#7c7c7c" stroke-width="1"/>
<circle cx="286.83" cy="803.60" r="3.30" fill="#fff" stroke="#7c7c7c" stroke-width="1"/>
<polygon points="112.17,702.52 115.67,708.48 108.67,708.48" fill="#000" stroke="#000" stroke-width="1"/>
<polygon points="199.50,715.52 203.00,721.48 196.00,721.48" fill="#000" stroke="#000" stroke-width="1"/>
<polygon points="286.83,800.62 290.33,806.58 283.33,806.58" fill="#000" stroke="#000" stroke-width="1"/>
<polygon points="112.17,800.71 115.57,806.49 108.77,806.49" fill="#fff" stroke="#7c7c7c" stroke-width="1"/>
<polygon points="199.50,800.71 202.90,806.49 196.10,806.49" fill="#fff" stroke="#7c7c7c" stroke-width="1"/>
<polygon points="286.83,800.71 290.23,806.49 283.43,806.49" fill="#fff" stroke="#7c7c7c" stroke-width="1"/>
<text x="106.82" y="670.10" font-size="11.80" fill="#000">A</text>
<text x="98.62" y="695.60" font-size="11.80" fill="#000">A</text>
<text x="99.52" y="718.60" font-size="11.80" fill="#000">A</text>
<text x="195.62" y="664.80" font-size="11.80" fill="#000">A</text>
<text x="206.18" y="714.47" font-size="11.80" fill="#000">B</text>
<text x="211.28" y="725.57" font-size="11.80" fill="#000">B</text>
<text x="283.72" y="686.30" font-size="11.80" fill="#000">A</text>
<text x="276.68" y="784.87" font-size="11.80" fill="#000">B</text>
<text x="286.68" y="795.57" font-size="11.80" fill="#000">B</text>
<text x="297.18" y="801.47" font-size="11.80" fill="#000">B</text>
<text x="110.58" y="794.67" font-size="11.80" fill="#000">B</text>
<text x="198.15" y="794.48" font-size="11.80" fill="#000">C</text>
<line x1="84.70" y1="611.60" x2="100.30" y2="611.60" stroke="#000" stroke-width="1.3"/>
<circle cx="92.50" cy="611.60" r="3.30" fill="#000" stroke="#000" stroke-width="1"/>
<text x="102.19" y="616.00" font-size="13.60" fill="#000">Rs</text>
<line x1="121.00" y1="611.60" x2="136.90" y2="611.60" stroke="#7c7c7c" stroke-width="1.3"/>
<circle cx="128.95" cy="611.60" r="3.20" fill="#fff" stroke="#7c7c7c" stroke-width="1"/>
<text x="138.39" y="616.00" font-size="13.60" fill="#000">Ri</text>
<line x1="156.00" y1="611.60" x2="159.00" y2="611.60" stroke="#000" stroke-width="1.3"/>
<line x1="168.80" y1="611.60" x2="171.80" y2="611.60" stroke="#000" stroke-width="1.3"/>
<polygon points="163.90,608.71 167.30,614.49 160.50,614.49" fill="#000" stroke="#000" stroke-width="1"/>
<text x="172.18" y="616.00" font-size="13.60" fill="#000">Sh</text>
<line x1="192.80" y1="611.60" x2="195.80" y2="611.60" stroke="#7c7c7c" stroke-width="1.3"/>
<line x1="205.70" y1="611.60" x2="208.70" y2="611.60" stroke="#7c7c7c" stroke-width="1.3"/>
<polygon points="200.75,608.71 204.15,614.49 197.35,614.49" fill="#fff" stroke="#7c7c7c" stroke-width="1"/>
<text x="210.19" y="616.00" font-size="13.60" fill="#000">L</text>
<text x="364.09" y="584.49" font-size="18.00" fill="#000">(f)</text>
<line x1="435.60" y1="622.40" x2="435.60" y2="808.10" stroke="#1e1e1e" stroke-width="1"/>
<line x1="431.60" y1="804.60" x2="435.60" y2="804.60" stroke="#1e1e1e" stroke-width="1"/>
<text x="416.52" y="809.19" font-size="14.00" fill="#000">0</text>
<line x1="431.60" y1="781.83" x2="435.60" y2="781.83" stroke="#1e1e1e" stroke-width="1"/>
<text x="416.84" y="786.45" font-size="14.00" fill="#000">1</text>
<line x1="431.60" y1="759.05" x2="435.60" y2="759.05" stroke="#1e1e1e" stroke-width="1"/>
<text x="416.77" y="763.69" font-size="14.00" fill="#000">2</text>
<line x1="431.60" y1="736.27" x2="435.60" y2="736.27" stroke="#1e1e1e" stroke-width="1"/>
<text x="416.56" y="740.84" font-size="14.00" fill="#000">3</text>
<line x1="431.60" y1="713.50" x2="435.60" y2="713.50" stroke="#1e1e1e" stroke-width="1"/>
<text x="416.21" y="718.10" font-size="14.00" fill="#000">4</text>
<line x1="431.60" y1="690.73" x2="435.60" y2="690.73" stroke="#1e1e1e" stroke-width="1"/>
<text x="416.56" y="695.24" font-size="14.00" fill="#000">5</text>
<line x1="431.60" y1="667.95" x2="435.60" y2="667.95" stroke="#1e1e1e" stroke-width="1"/>
<text x="416.42" y="672.52" font-size="14.00" fill="#000">6</text>
<line x1="431.60" y1="645.17" x2="435.60" y2="645.17" stroke="#1e1e1e" stroke-width="1"/>
<text x="416.42" y="649.76" font-size="14.00" fill="#000">7</text>
<line x1="431.60" y1="622.40" x2="435.60" y2="622.40" stroke="#1e1e1e" stroke-width="1"/>
<text x="416.52" y="626.99" font-size="14.00" fill="#000">8</text>
<line x1="431.60" y1="804.60" x2="706.20" y2="804.60" stroke="#1e1e1e" stroke-width="1"/>
<line x1="525.80" y1="804.60" x2="525.80" y2="808.10" stroke="#1e1e1e" stroke-width="1"/>
<line x1="616.00" y1="804.60" x2="616.00" y2="808.10" stroke="#1e1e1e" stroke-width="1"/>
<line x1="706.20" y1="804.60" x2="706.20" y2="808.10" stroke="#1e1e1e" stroke-width="1"/>
<text x="473.48" y="826.81" font-size="14.30" fill="#000">30</text>
<text x="563.71" y="826.81" font-size="14.30" fill="#000">60</text>
<text x="653.99" y="826.81" font-size="14.30" fill="#000">90</text>
<text x="486.01" y="846.30" font-size="16.45" fill="#000">Days after transplantation</text>
<text transform="translate(387.29,805.63) rotate(-90)" x="0" y="0" font-size="16.40" fill="#000">Chitinase producing bacteria</text>
<text transform="translate(407.81,767.48) rotate(-90)" x="0" y="0" font-size="16.50" fill="#000">(log CFU/g FW)</text>
<polyline points="480.70,644.20 570.90,706.00 661.10,708.80" fill="none" stroke="#1a1a1a" stroke-width="1.1"/>
<polyline points="480.70,673.40 570.90,730.00 661.10,732.00" fill="none" stroke="#7c7c7c" stroke-width="1.0"/>
<polyline points="480.70,678.50 570.90,804.60 661.10,804.60" fill="none" stroke="#222" stroke-width="1.2" stroke-dasharray="3.5,2.5"/>
<polyline points="480.70,804.60 570.90,804.60 661.10,804.60" fill="none" stroke="#7c7c7c" stroke-width="1.2" stroke-dasharray="3.5,2.5"/>
<line x1="480.70" y1="634.40" x2="480.70" y2="654.90" stroke="#666" stroke-width="1"/>
<line x1="479.20" y1="634.40" x2="482.20" y2="634.40" stroke="#666" stroke-width="1"/>
<line x1="479.20" y1="654.90" x2="482.20" y2="654.90" stroke="#666" stroke-width="1"/>
<line x1="570.90" y1="678.30" x2="570.90" y2="722.20" stroke="#666" stroke-width="1"/>
<line x1="569.40" y1="678.30" x2="572.40" y2="678.30" stroke="#666" stroke-width="1"/>
<line x1="569.40" y1="722.20" x2="572.40" y2="722.20" stroke="#666" stroke-width="1"/>
<line x1="480.70" y1="666.30" x2="480.70" y2="680.50" stroke="#666" stroke-width="1"/>
<line x1="479.20" y1="666.30" x2="482.20" y2="666.30" stroke="#666" stroke-width="1"/>
<line x1="479.20" y1="680.50" x2="482.20" y2="680.50" stroke="#666" stroke-width="1"/>
<line x1="570.90" y1="722.50" x2="570.90" y2="737.50" stroke="#666" stroke-width="1"/>
<line x1="569.40" y1="722.50" x2="572.40" y2="722.50" stroke="#666" stroke-width="1"/>
<line x1="569.40" y1="737.50" x2="572.40" y2="737.50" stroke="#666" stroke-width="1"/>
<circle cx="480.70" cy="644.20" r="3.50" fill="#000" stroke="#000" stroke-width="1"/>
<circle cx="570.90" cy="706.00" r="3.50" fill="#000" stroke="#000" stroke-width="1"/>
<circle cx="661.10" cy="708.80" r="3.50" fill="#000" stroke="#000" stroke-width="1"/>
<circle cx="480.70" cy="673.40" r="3.30" fill="#fff" stroke="#7c7c7c" stroke-width="1"/>
<circle cx="570.90" cy="730.00" r="3.30" fill="#fff" stroke="#7c7c7c" stroke-width="1"/>
<circle cx="661.10" cy="732.00" r="3.30" fill="#fff" stroke="#7c7c7c" stroke-width="1"/>
<polygon points="480.70,675.52 484.20,681.48 477.20,681.48" fill="#000" stroke="#000" stroke-width="1"/>
<polygon points="480.70,801.71 484.10,807.49 477.30,807.49" fill="#fff" stroke="#7c7c7c" stroke-width="1"/>
<polygon points="570.90,801.71 574.30,807.49 567.50,807.49" fill="#fff" stroke="#7c7c7c" stroke-width="1"/>
<polygon points="661.10,801.71 664.50,807.49 657.70,807.49" fill="#fff" stroke="#7c7c7c" stroke-width="1"/>
<text x="476.72" y="629.70" font-size="11.80" fill="#000">A</text>
<text x="467.78" y="676.57" font-size="11.80" fill="#000">B</text>
<text x="472.78" y="694.47" font-size="11.80" fill="#000">B</text>
<text x="567.22" y="672.70" font-size="11.80" fill="#000">A</text>
<text x="581.12" y="723.40" font-size="11.80" fill="#000">A</text>
<text x="657.32" y="698.60" font-size="11.80" fill="#000">A</text>
<text x="671.38" y="735.67" font-size="11.80" fill="#000">B</text>
<text x="480.45" y="793.58" font-size="11.80" fill="#000">C</text>
<text x="572.88" y="791.67" font-size="11.80" fill="#000">B</text>
<text x="581.08" y="799.57" font-size="11.80" fill="#000">B</text>
<text x="659.95" y="793.08" font-size="11.80" fill="#000">C</text>
<text x="670.85" y="796.78" font-size="11.80" fill="#000">C</text>
<line x1="450.30" y1="610.20" x2="465.70" y2="610.20" stroke="#000" stroke-width="1.3"/>
<circle cx="458.00" cy="610.20" r="3.30" fill="#000" stroke="#000" stroke-width="1"/>
<text x="466.87" y="614.30" font-size="14.20" fill="#000">Rs</text>
<line x1="485.10" y1="610.20" x2="499.30" y2="610.20" stroke="#7c7c7c" stroke-width="1.3"/>
<circle cx="492.20" cy="610.20" r="3.20" fill="#fff" stroke="#7c7c7c" stroke-width="1"/>
<text x="500.87" y="614.30" font-size="14.20" fill="#000">Ri</text>
<line x1="517.10" y1="610.20" x2="520.10" y2="610.20" stroke="#000" stroke-width="1.3"/>
<line x1="529.00" y1="610.20" x2="532.00" y2="610.20" stroke="#000" stroke-width="1.3"/>
<polygon points="524.55,607.31 527.95,613.09 521.15,613.09" fill="#000" stroke="#000" stroke-width="1"/>
<text x="532.94" y="614.30" font-size="14.20" fill="#000">Sh</text>
<line x1="551.70" y1="610.20" x2="554.70" y2="610.20" stroke="#7c7c7c" stroke-width="1.3"/>
<line x1="562.60" y1="610.20" x2="565.60" y2="610.20" stroke="#7c7c7c" stroke-width="1.3"/>
<polygon points="558.65,607.31 562.05,613.09 555.25,613.09" fill="#fff" stroke="#7c7c7c" stroke-width="1"/>
<text x="567.07" y="614.30" font-size="14.20" fill="#000">L</text>
</svg>
</body></html>
